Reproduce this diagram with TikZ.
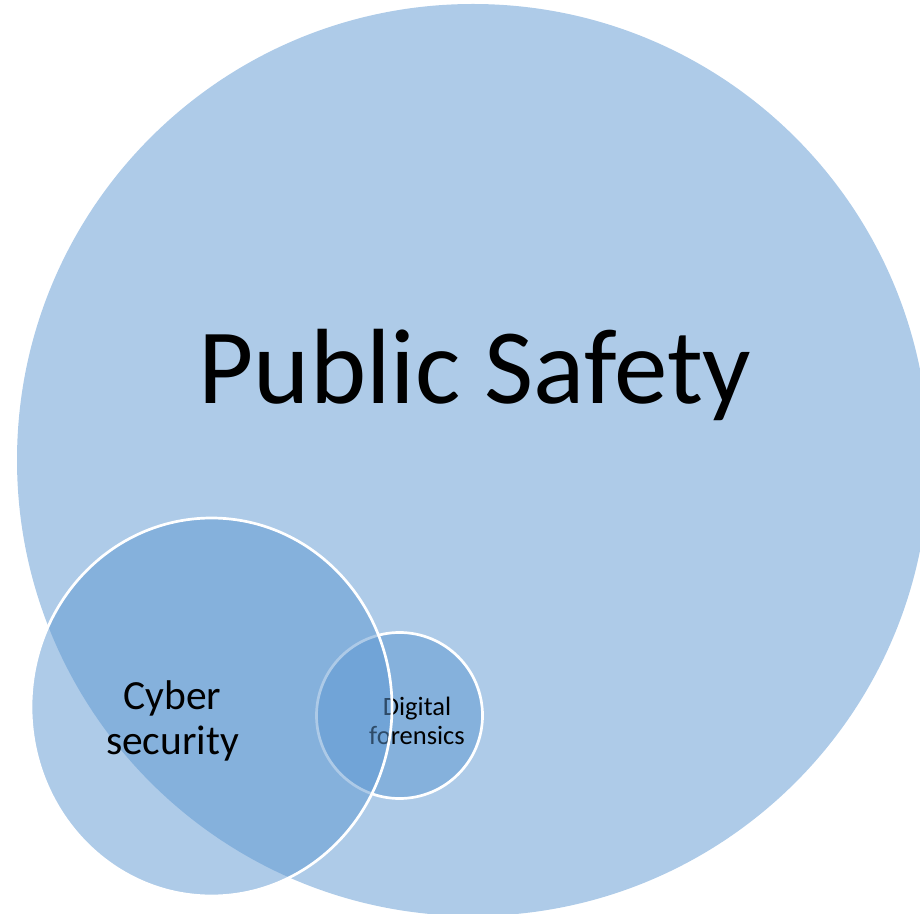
\documentclass[tikz,border=0pt]{standalone}
\usepackage{fontspec}
\setmainfont{Carlito}
\definecolor{bubbleblue}{RGB}{93,151,209}

\begin{document}
\begin{tikzpicture}[x=1pt,y=1pt]
  % Parameters
  \def\outerR{456}
  \def\innerR{83}
  \def\ringwidth{2.7pt}

  % Styles for the bubbles
  \tikzset{
    bubble/.style={fill=bubbleblue, fill opacity=0.5},
    ringed/.style={bubble, draw=white, draw opacity=1, line width=\ringwidth},
    label/.style={text=black, text opacity=1, inner sep=0pt, align=center}
  }

  % Fix the page size
  \useasboundingbox (0,0) rectangle (920,913);

  % Big bubble
  \fill[bubble] (473,453) circle[radius=\outerR];
  \node[label, anchor=base, font=\fontsize{107}{128}\selectfont]
    (safety) at (475,509) {Public Safety};

  % Small bubble, drawn under the middle one
  \path[ringed] (399.5,197.5) circle[radius=\innerR];
  \node[label, font=\fontsize{26.5}{29}\selectfont]
    (forensics) at (417,192) {Digital\\forensics};

  % Middle bubble
  \path[ringed] (211.5,206) ellipse[x radius=180.5, y radius=189];
  \node[label, font=\fontsize{41.5}{45}\selectfont]
    (cyber) at (172.5,192) {Cyber\\security};

\end{tikzpicture}
\end{document}
